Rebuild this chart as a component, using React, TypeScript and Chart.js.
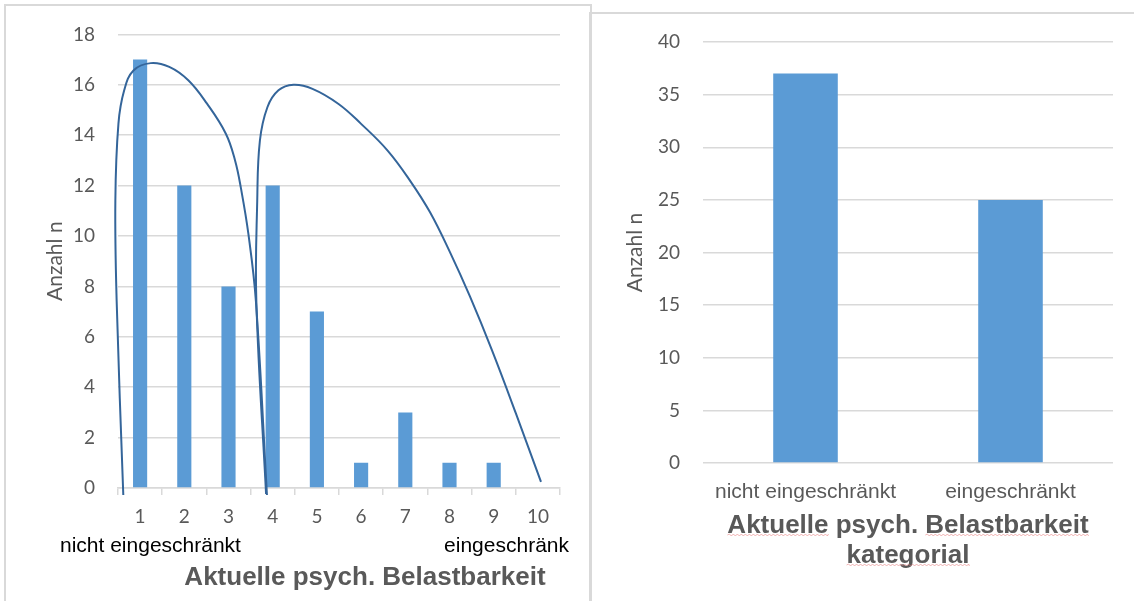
import React, { useEffect, useRef } from 'react';
import { Chart, registerables } from 'chart.js';

Chart.register(...registerables);

// Score distribution (1 = nicht eingeschränkt ... 10 = eingeschränkt)
const scoreLabels = ['1', '2', '3', '4', '5', '6', '7', '8', '9', '10'];
const scoreCounts = [17, 12, 8, 12, 7, 1, 3, 1, 1, 0];

// Hand-drawn grouping arcs, in score / count units
const arcLow = [
  { x: 0.62, y: -0.28 }, { x: 0.47, y: 7.4 }, { x: 0.44, y: 11.4 }, { x: 0.51, y: 14.46 },
  { x: 0.64, y: 15.78 }, { x: 0.85, y: 16.57 }, { x: 1.24, y: 16.86 }, { x: 1.66, y: 16.71 },
  { x: 2.09, y: 16.18 }, { x: 2.51, y: 15.26 }, { x: 2.94, y: 14.06 }, { x: 3.15, y: 12.99 },
  { x: 3.28, y: 11.91 }, { x: 3.45, y: 10.08 }, { x: 3.62, y: 7.41 }, { x: 3.87, y: -0.28 },
];
const arcHigh = [
  { x: 3.85, y: -0.24 }, { x: 3.63, y: 7.41 }, { x: 3.65, y: 11.39 }, { x: 3.71, y: 13.78 },
  { x: 3.88, y: 15.11 }, { x: 4.13, y: 15.78 }, { x: 4.47, y: 16.0 }, { x: 4.9, y: 15.84 },
  { x: 5.49, y: 15.24 }, { x: 6.0, y: 14.45 }, { x: 6.6, y: 13.39 }, { x: 7.11, y: 12.19 },
  { x: 7.56, y: 10.94 }, { x: 8.01, y: 9.36 }, { x: 8.46, y: 7.61 }, { x: 8.96, y: 5.47 },
  { x: 9.5, y: 2.97 }, { x: 10.07, y: 0.24 },
];

// Categorical summary
const groupLabels = ['nicht eingeschränkt', 'eingeschränkt'];
const groupCounts = [37, 25];

const yAxisTitle = 'Anzahl n';
const xAxisTitle = 'Aktuelle psych. Belastbarkeit';
const xAxisTitleLine2 = 'kategorial';
const scaleEndLow = 'nicht eingeschränkt';
const scaleEndHigh = 'eingeschränk';

const BAR = '#5B9BD5';
const ARC = '#34659A';
const GRID = '#D9D9D9';
const GRAY = '#595959';
const TICK_FONT = { family: 'Lato', size: 19 };
const LABEL_FAMILY = '"Liberation Sans", Arial, sans-serif';

function drawWavy(ctx: CanvasRenderingContext2D, x0: number, x1: number, y: number) {
  ctx.save();
  ctx.strokeStyle = 'rgba(232,120,120,0.55)';
  ctx.lineWidth = 1;
  ctx.beginPath();
  let up = true;
  ctx.moveTo(x0, y);
  for (let x = x0; x < x1; x += 2) {
    ctx.lineTo(Math.min(x + 2, x1), y + (up ? -1 : 1));
    up = !up;
  }
  ctx.stroke();
  ctx.restore();
}

function drawVerticalTitle(ctx: CanvasRenderingContext2D, x: number, y: number) {
  ctx.save();
  ctx.translate(x, y);
  ctx.rotate(-Math.PI / 2);
  ctx.font = '21px Lato';
  ctx.fillStyle = GRAY;
  ctx.textAlign = 'center';
  ctx.textBaseline = 'middle';
  ctx.fillText(yAxisTitle, 0, 0);
  ctx.restore();
}

const scoreTexts = {
  id: 'scoreTexts',
  afterDraw(chart: Chart) {
    const { ctx, chartArea } = chart;
    const midY = (chartArea.top + chartArea.bottom) / 2;
    drawVerticalTitle(ctx, chartArea.left - 63, midY);
    ctx.save();
    ctx.font = `21px ${LABEL_FAMILY}`;
    ctx.fillStyle = '#000';
    ctx.textBaseline = 'middle';
    ctx.textAlign = 'left';
    ctx.fillText(scaleEndLow, 60, chartArea.bottom + 58);
    ctx.textAlign = 'right';
    ctx.fillText(scaleEndHigh, 569, chartArea.bottom + 58);
    ctx.font = `bold 26px ${LABEL_FAMILY}`;
    ctx.fillStyle = GRAY;
    ctx.textAlign = 'center';
    ctx.fillText(xAxisTitle, 365, chartArea.bottom + 90);
    ctx.restore();
  },
};

const groupTexts = {
  id: 'groupTexts',
  afterDraw(chart: Chart) {
    const { ctx, chartArea } = chart;
    const midY = (chartArea.top + chartArea.bottom) / 2;
    drawVerticalTitle(ctx, chartArea.left - 68, midY);
    ctx.save();
    ctx.font = `bold 26px ${LABEL_FAMILY}`;
    ctx.fillStyle = GRAY;
    ctx.textAlign = 'left';
    ctx.textBaseline = 'alphabetic';
    const cx = (chartArea.left + chartArea.right) / 2;
    const w1 = ctx.measureText(xAxisTitle).width;
    const x1 = cx - w1 / 2;
    const base1 = chartArea.bottom + 70;
    ctx.fillText(xAxisTitle, x1, base1);
    const w2 = ctx.measureText(xAxisTitleLine2).width;
    const x2 = cx - w2 / 2;
    const base2 = base1 + 30;
    ctx.fillText(xAxisTitleLine2, x2, base2);
    // spell-check style underlines
    const words = xAxisTitle.split(' ');
    const firstW = ctx.measureText(words[0]).width;
    drawWavy(ctx, x1, x1 + firstW, base1 + 2);
    const lastW = ctx.measureText(words[words.length - 1]).width;
    drawWavy(ctx, x1 + w1 - lastW, x1 + w1, base1 + 2);
    drawWavy(ctx, x2, x2 + w2, base2 + 2);
    ctx.restore();
  },
};

function ScoreChart() {
  const ref = useRef<HTMLCanvasElement>(null);
  useEffect(() => {
    if (!ref.current) return;
    const arcStyle = {
      type: 'line' as const,
      xAxisID: 'xc',
      yAxisID: 'y',
      borderColor: ARC,
      borderWidth: 2,
      pointRadius: 0,
      tension: 0.4,
      fill: false,
      clip: false as const,
      order: 1,
    };
    const chart = new Chart(ref.current, {
      type: 'bar',
      data: {
        labels: scoreLabels,
        datasets: [
          {
            type: 'bar',
            data: scoreCounts,
            backgroundColor: BAR,
            barPercentage: 0.32,
            categoryPercentage: 1,
            grouped: false,
            xAxisID: 'x',
            yAxisID: 'y',
            order: 2,
          },
          { ...arcStyle, data: arcLow } as any,
          { ...arcStyle, data: arcHigh } as any,
        ],
      },
      options: {
        animation: false,
        responsive: false,
        layout: { padding: { top: 34, right: 30, left: 0, bottom: 0 } },
        plugins: { legend: { display: false }, tooltip: { enabled: false } },
        scales: {
          x: {
            type: 'category',
            offset: true,
            grid: { drawOnChartArea: false, drawTicks: true, tickLength: 7, color: GRID, lineWidth: 1.5, offset: true },
            border: { color: GRID, width: 1.5 },
            ticks: { color: GRAY, font: TICK_FONT, padding: 10, maxRotation: 0 },
            afterFit: (s: any) => { s.height = 113; },
          },
          xc: {
            type: 'linear',
            display: false,
            offset: false,
            min: 0.5,
            max: 10.5,
            grid: { offset: false },
          },
          y: {
            min: 0,
            max: 18,
            ticks: { stepSize: 2, color: GRAY, font: TICK_FONT, padding: 23 },
            grid: { color: GRID, lineWidth: 1.5, drawTicks: false },
            border: { display: false },
            afterFit: (s: any) => { s.width = 118; },
          },
        },
      },
      plugins: [scoreTexts],
    });
    return () => chart.destroy();
  }, []);
  return <canvas ref={ref} width={590} height={601} style={{ position: 'absolute', left: 0, top: 0 }} />;
}

function GroupChart() {
  const ref = useRef<HTMLCanvasElement>(null);
  useEffect(() => {
    if (!ref.current) return;
    const chart = new Chart(ref.current, {
      type: 'bar',
      data: {
        labels: groupLabels,
        datasets: [
          {
            data: groupCounts,
            backgroundColor: BAR,
            barPercentage: 0.315,
            categoryPercentage: 1,
          },
        ],
      },
      options: {
        animation: false,
        responsive: false,
        layout: { padding: { top: 42, right: 21, left: 0, bottom: 0 } },
        plugins: { legend: { display: false }, tooltip: { enabled: false } },
        scales: {
          x: {
            grid: { display: false },
            border: { display: false },
            ticks: { color: GRAY, font: { family: LABEL_FAMILY, size: 21 }, padding: 9, maxRotation: 0 },
            afterFit: (s: any) => { s.height = 138; },
          },
          y: {
            min: 0,
            max: 40,
            ticks: { stepSize: 5, color: GRAY, font: TICK_FONT, padding: 23 },
            grid: { color: GRID, lineWidth: 1.5, drawTicks: false },
            border: { display: false },
            afterFit: (s: any) => { s.width = 113; },
          },
        },
      },
      plugins: [groupTexts],
    });
    return () => chart.destroy();
  }, []);
  return <canvas ref={ref} width={544} height={601} style={{ position: 'absolute', left: 590, top: 0 }} />;
}

export default function App() {
  return (
    <div style={{ position: 'absolute', left: 0, top: 0, width: 1134, height: 601, background: '#fff', overflow: 'hidden' }}>
      <div style={{ position: 'absolute', left: 4, top: 4, width: 584, height: 620, borderLeft: `2px solid ${GRID}`, borderTop: `2px solid ${GRID}`, borderRight: `2px solid ${GRID}` }} />
      <div style={{ position: 'absolute', left: 589, top: 12, width: 560, height: 620, borderLeft: `2px solid ${GRID}`, borderTop: `2px solid ${GRID}` }} />
      <ScoreChart />
      <GroupChart />
    </div>
  );
}
